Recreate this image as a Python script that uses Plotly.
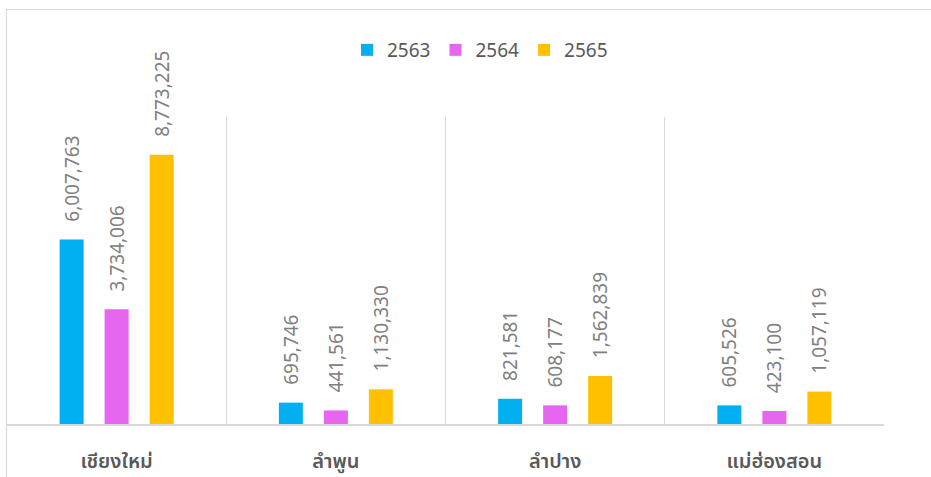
import plotly.graph_objects as go

provinces = ["เชียงใหม่", "ลำพูน", "ลำปาง", "แม่ฮ่องสอน"]
years = ["2563", "2564", "2565"]
values_2563 = [6007763, 695746, 821581, 605526]
values_2564 = [3734006, 441561, 608177, 423100]
values_2565 = [8773225, 1130330, 1562839, 1057119]
colors = ["#00B0F0", "#E666F0", "#FFC000"]

series = [values_2563, values_2564, values_2565]

fig = go.Figure()
for name, vals, col in zip(years, series, colors):
    fig.add_trace(go.Bar(
        x=provinces, y=vals, name=name,
        marker=dict(color=col, line=dict(width=0)),
        text=[f"{v:,}" for v in vals],
        texttemplate="\u00a0\u00a0\u00a0%{text}",
        textposition="outside", textangle=-90, constraintext="none",
        textfont=dict(family="Noto Sans, sans-serif", size=19, color="#808080"),
        cliponaxis=False,
        hoverinfo="skip",
    ))

W, H = 931, 477
L, R, T, B = 7, 47, 117, 53
pw, ph = W - L - R, H - T - B

fig.update_layout(
    width=W, height=H,
    margin=dict(l=L, r=R, t=T, b=B, pad=0, autoexpand=False),
    paper_bgcolor="white", plot_bgcolor="white",
    barmode="group", bargap=0.384, bargroupgap=0.467,
    showlegend=True,
    legend=dict(orientation="h", x=(480 - L) / pw, xanchor="center",
                y=(H - B - 50) / ph, yanchor="middle",
                font=dict(family="Noto Sans, sans-serif", size=19, color="#595959"),
                bgcolor="rgba(0,0,0,0)"),
    xaxis=dict(type="category", tickson="boundaries", showgrid=True,
               gridcolor="#D9D9D9", gridwidth=1, automargin=False,
               showline=True, linecolor="#D9D9D9", linewidth=1.5,
               ticks="", ticklabelstandoff=18,
               tickfont=dict(family="Noto Sans Thai, Leelawadee UI, Tahoma, sans-serif",
                             size=20, color="#595959", weight=600),
               zeroline=False),
    yaxis=dict(range=[0, 10000000], showgrid=False, showticklabels=False,
               automargin=False,
               showline=False, zeroline=False, ticks=""),
    shapes=[dict(type="rect", xref="paper", yref="paper",
                 x0=(6.5 - L) / pw, x1=(W + 20 - L) / pw,
                 y0=(H - B - (H + 20)) / ph, y1=(H - B - 9.5) / ph,
                 line=dict(color="#D9D9D9", width=1.2), fillcolor="rgba(0,0,0,0)",
                 layer="below")],
)

fig.write_html("out.html", config={"displayModeBar": False},
               post_script="document.body.style.margin='0';document.body.style.overflow='hidden';")
